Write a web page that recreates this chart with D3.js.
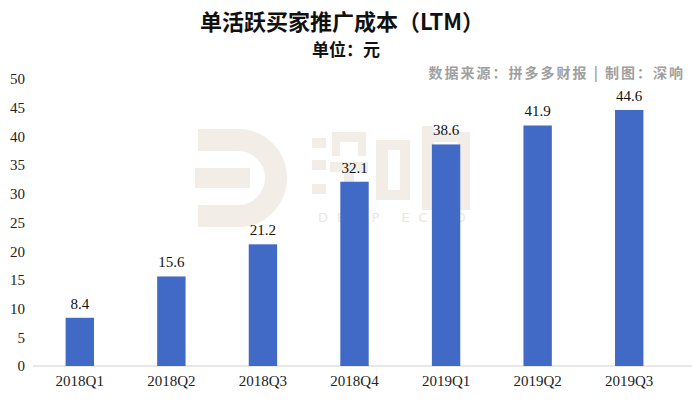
<!DOCTYPE html>
<html lang="zh">
<head>
    <meta charset="UTF-8">
    <title>单活跃买家推广成本（LTM）</title>
    <style>
        body { margin: 0; background: #fff; }
        .num { font-family: "Liberation Serif", "DejaVu Serif", serif; }
        .cjk { font-family: "Noto Sans CJK SC", sans-serif; }
    </style>
</head>
<body>
<svg id="svg" width="692" height="404"></svg>
<script src="https://d3js.org/d3.v7.min.js"></script>
<script>
    const quarters = ["2018Q1", "2018Q2", "2018Q3", "2018Q4", "2019Q1", "2019Q2", "2019Q3"];
    const costs = [8.4, 15.6, 21.2, 32.1, 38.6, 41.9, 44.6];
    const yTicks = [0, 5, 10, 15, 20, 25, 30, 35, 40, 45, 50];

    const svg = d3.select("#svg");
    const width = 692, height = 404;

    // faint "DEEP ECHO" watermark, drawn as blocks
    const wmColor = "#f2ede6";
    const wm = svg.append("g");
    wm.append("path")
        .attr("d", "M198,140 H238 A38,38 0 0 1 238,216 H198")
        .attr("fill", "none").attr("stroke", wmColor).attr("stroke-width", 22);
    wm.append("rect").attr("x", 195).attr("y", 168).attr("width", 55).attr("height", 20).attr("fill", wmColor);
    // 深
    [[312, 138, 14, 10], [312, 160, 14, 10], [312, 184, 14, 10], [332, 132, 34, 10],
     [332, 132, 8, 24], [358, 132, 8, 24], [330, 162, 38, 10], [344, 162, 10, 36]]
        .forEach(r => wm.append("rect").attr("x", r[0]).attr("y", r[1]).attr("width", r[2]).attr("height", r[3]).attr("fill", wmColor));
    // 响
    [[376, 140, 12, 60], [388, 140, 22, 10], [400, 140, 10, 60], [388, 190, 22, 10],
     [422, 126, 12, 84], [422, 132, 48, 10], [458, 132, 12, 78], [438, 150, 10, 40]]
        .forEach(r => wm.append("rect").attr("x", r[0]).attr("y", r[1]).attr("width", r[2]).attr("height", r[3]).attr("fill", wmColor));
    wm.append("text")
        .attr("x", 318).attr("y", 222)
        .style("font-family", "DejaVu Sans").style("font-size", "13px")
        .style("letter-spacing", "9px").attr("fill", "#ece6de")
        .text("DEEP ECHO");

    const x = d3.scaleBand().domain(quarters).range([34, 675])
        .paddingInner(0.69).paddingOuter(0.345);
    const y = d3.scaleLinear().domain([0, 50]).range([366, 79]);

    // titles
    svg.append("text").attr("class", "cjk")
        .attr("x", width / 2 - 4).attr("y", 30)
        .attr("text-anchor", "middle")
        .style("font-size", "22px").style("font-weight", "bold").attr("fill", "#111")
        .text("单活跃买家推广成本（LTM）");
    svg.append("text").attr("class", "cjk")
        .attr("x", width / 2).attr("y", 56)
        .attr("text-anchor", "middle")
        .style("font-size", "17px").style("font-weight", "bold").attr("fill", "#111")
        .text("单位：元");
    svg.append("text").attr("class", "cjk")
        .attr("x", 685).attr("y", 78)
        .attr("text-anchor", "end")
        .style("font-size", "14px").style("font-weight", "bold")
        .style("letter-spacing", "2px").attr("fill", "#a0a0a0")
        .text("数据来源：拼多多财报 | 制图：深响");

    // y axis labels
    const yAxis = svg.append("g")
        .attr("transform", "translate(25,0)")
        .call(d3.axisLeft(y).tickValues(yTicks).tickSize(0).tickPadding(0));
    yAxis.select(".domain").remove();
    yAxis.selectAll("text").attr("class", "num")
        .style("font-size", "15px").attr("fill", "#222");

    // baseline
    svg.append("line")
        .attr("x1", 33).attr("x2", 692)
        .attr("y1", y(0)).attr("y2", y(0))
        .attr("stroke", "#d0d0d0").attr("stroke-width", 1);

    // x axis labels
    const xAxis = svg.append("g")
        .attr("transform", "translate(0," + y(0) + ")")
        .call(d3.axisBottom(x).tickSize(0).tickPadding(9));
    xAxis.select(".domain").remove();
    xAxis.selectAll("text").attr("class", "num")
        .style("font-size", "15px").attr("fill", "#222");

    // bars
    svg.append("g").selectAll("rect")
        .data(costs)
        .join("rect")
        .attr("x", (d, i) => x(quarters[i]))
        .attr("y", d => y(d))
        .attr("width", x.bandwidth())
        .attr("height", d => y(0) - y(d))
        .attr("fill", "#4169c6");

    // value labels
    svg.append("g").selectAll("text")
        .data(costs)
        .join("text")
        .attr("class", "num")
        .attr("x", (d, i) => x(quarters[i]) + x.bandwidth() / 2)
        .attr("y", d => y(d) - 9)
        .attr("text-anchor", "middle")
        .style("font-size", "15px").attr("fill", "#111")
        .text(d => d.toFixed(1));
</script>
</body>
</html>
